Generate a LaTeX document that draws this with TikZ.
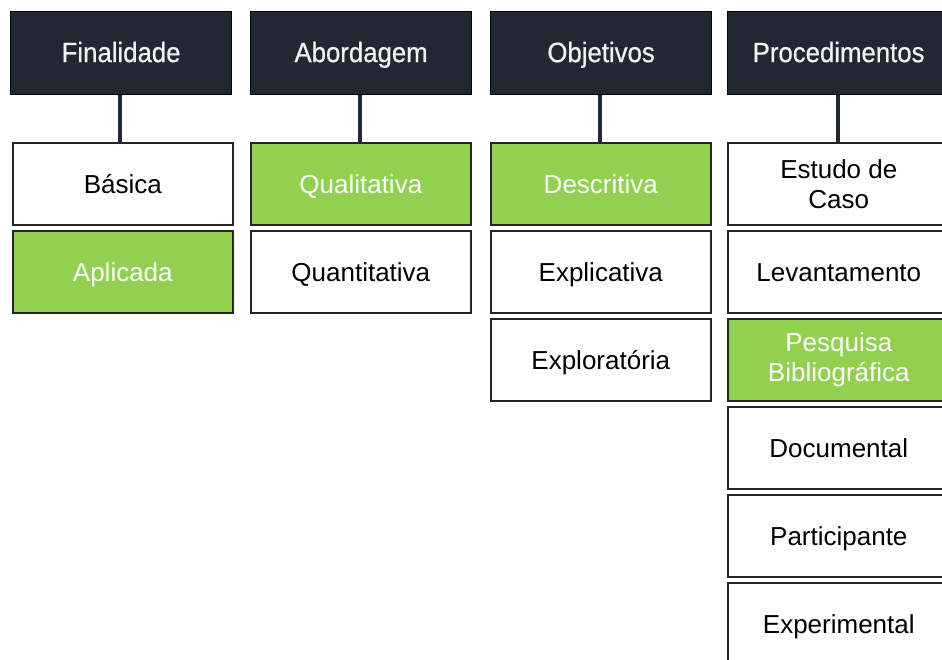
\documentclass[tikz,border=0pt]{standalone}
\usepackage{fontspec}
\setmainfont{Liberation Sans}
\newfontfamily\hdrfont{Liberation Sans}[FakeStretch=0.92,FakeBold=0.6]
\definecolor{navy}{HTML}{222833}
\definecolor{hdrtext}{HTML}{F2F2F2}
\definecolor{selgreen}{HTML}{92D050}
\definecolor{boxline}{HTML}{262626}
\begin{document}
\begin{tikzpicture}[x=1pt,y=-1pt,
  hdr/.style={draw=black, line width=1.2pt, fill=navy, text=hdrtext,
    minimum width=221pt, minimum height=83pt, inner sep=0pt, anchor=north west,
    text height=22pt, text depth=4pt,
    font=\hdrfont\fontsize{28}{30}\selectfont},
  item/.style={draw=boxline, line width=1.6pt, fill=white, text=black,
    minimum width=220pt, minimum height=82pt, inner sep=0pt, align=center,
    anchor=north west, font=\fontsize{26}{30}\selectfont},
  one/.style={text height=24pt, text depth=4pt},
  sel/.style={item, fill=selgreen, text=white},
  wide/.style={minimum width=222pt},
  link/.style={draw=navy, line width=4pt}]
\useasboundingbox (0,0) rectangle (942,659);
% headers
\node[hdr] (h1) at (10,11) {Finalidade};
\node[hdr] (h2) at (250,11) {Abordagem};
\node[hdr] (h3) at (490,11) {Objetivos};
\node[hdr, minimum width=222pt] (h4) at (727,11) {Procedimentos};
% column 1
\node[item, one] (c11) at (12,142) {Básica};
\node[sel, one]  (c12) at (12,230) {Aplicada};
% column 2
\node[sel, one]  (c21) at (250,142) {Qualitativa};
\node[item, one] (c22) at (250,230) {Quantitativa};
% column 3
\node[sel, one]  (c31) at (490,142) {Descritiva};
\node[item, one] (c32) at (490,230) {Explicativa};
\node[item, one] (c33) at (490,318) {Exploratória};
% column 4
\node[item, wide] (c41) at (727,142) {Estudo de\\Caso};
\node[item, wide, one] (c42) at (727,230) {Levantamento};
\node[sel, wide]  (c43) at (727,318) {Pesquisa\\Bibliográfica};
\node[item, wide, one] (c44) at (727,406) {Documental};
\node[item, wide, one] (c45) at (727,494) {Participante};
\node[item, wide, one] (c46) at (727,582) {Experimental};
% connectors
\coordinate (p1) at (120,0);
\coordinate (p2) at (360,0);
\coordinate (p3) at (600,0);
\coordinate (p4) at (838,0);
\draw[link] (p1 |- h1.south) -- (p1 |- c11.north);
\draw[link] (p2 |- h2.south) -- (p2 |- c21.north);
\draw[link] (p3 |- h3.south) -- (p3 |- c31.north);
\draw[link] (p4 |- h4.south) -- (p4 |- c41.north);
\end{tikzpicture}
\end{document}
